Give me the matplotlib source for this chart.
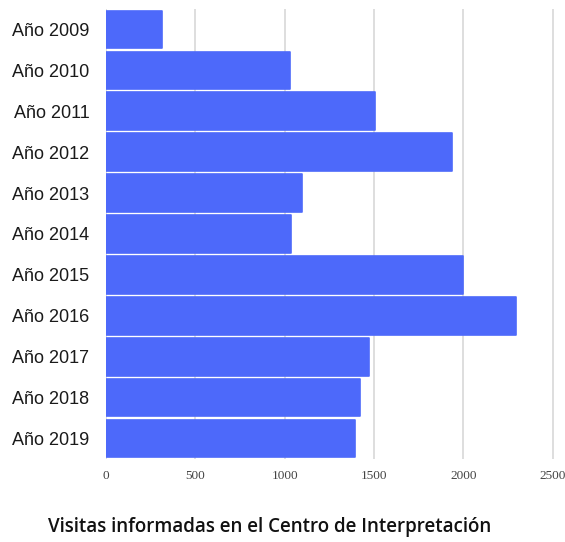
import matplotlib
matplotlib.use("Agg")
import matplotlib.pyplot as plt

categories = ["Año 2009", "Año 2010", "Año 2011", "Año 2012", "Año 2013", "Año 2014",
              "Año 2015", "Año 2016", "Año 2017", "Año 2018", "Año 2019"]
values = [313, 1030, 1505, 1938, 1097, 1037, 2000, 2294, 1474, 1421, 1392]
xticks = [0, 500, 1000, 1500, 2000, 2500]
title = "Visitas informadas en el Centro de Interpretación"

fig = plt.figure(figsize=(5.65, 5.42), dpi=100)
x0, x1 = 106, 552.7
xmax = 2520
width_px = (x1 - x0) * xmax / 2500
ax = fig.add_axes([x0/565, 1-459/542, width_px/565, 450/542])

ax.barh(range(len(categories)), values, height=0.92, color="#4d69fa",
        edgecolor="#4d69fa", linewidth=1.2, joinstyle="round", zorder=3)
ax.set_xlim(0, xmax)
ax.set_ylim(len(categories)-0.5, -0.5)
ax.set_yticks(range(len(categories)))
ax.set_yticklabels(categories, fontsize=13, family="Liberation Sans", color="#1a1a1a")
ax.set_xticks(xticks)
ax.set_xticklabels([str(t) for t in xticks], fontsize=9.5, family="Liberation Serif", color="#444444")
ax.tick_params(axis="both", length=0)
ax.tick_params(axis="y", pad=12)
ax.tick_params(axis="x", pad=8)
for s in ax.spines.values():
    s.set_visible(False)
ax.grid(axis="x", color="#d4d4d4", linewidth=1.1, zorder=0)
ax.set_axisbelow(True)

fig.text(0.478, 1-527/542, title, ha="center", va="center", fontsize=13.5,
         family="Open Sans", fontweight="semibold", color="#111111")

fig.savefig("out.png", dpi=100)
